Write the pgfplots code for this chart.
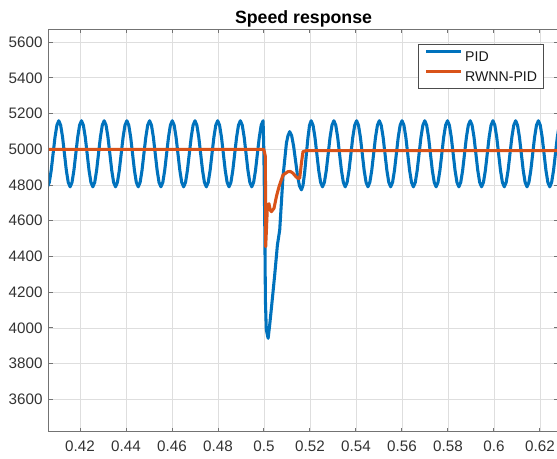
\documentclass[border=0pt]{standalone}
\usepackage{pgfplots}
\pgfplotsset{compat=1.18}
\usepackage{fontspec}
\setmainfont{Liberation Sans}
\definecolor{mblue}{HTML}{0072BD}
\definecolor{morange}{HTML}{D95319}
\begin{document}
\begin{tikzpicture}
\begin{axis}[
 scale only axis, width=381.75pt, height=301.8pt,
 at={(0,0)}, anchor=south west,
 xmin=0.40652, xmax=0.62783, ymin=3419, ymax=5672,
 xtick={0.42,0.44,0.46,0.48,0.5,0.52,0.54,0.56,0.58,0.6,0.62},
 xticklabels={0.42,0.44,0.46,0.48,0.5,0.52,0.54,0.56,0.58,0.6,0.62},
 ytick={3600,3800,4000,4200,4400,4600,4800,5000,5200,5400,5600},
 yticklabels={3600,3800,4000,4200,4400,4600,4800,5000,5200,5400,5600},
 grid=major, major grid style={black!13, line width=0.6pt},
 axis line style={black!55, line width=0.75pt},
 tick style={black!55, line width=0.75pt},
 tick align=inside, major tick length=3pt,
 ticklabel style={font=\fontsize{11.4}{13}\selectfont, text=black!80},
 xticklabel style={inner sep=0pt, anchor=north, yshift=-7pt},
 yticklabel style={inner sep=0pt, anchor=east, xshift=-4.7pt},
 every axis title shift=0pt,
 title={Speed response},
 title style={font=\bfseries\fontsize{13.3}{15}\selectfont, at={(0.5,1)}, anchor=base, yshift=4.7pt, inner sep=0pt},
 legend style={at={(1,1)}, anchor=north east, xshift=-10.5pt, yshift=-11pt, draw=black!70, line width=0.6pt, fill=white, inner xsep=4.85pt, inner ysep=2.6pt, font=\fontsize{10.6}{12}\selectfont, text=black!90, row sep=2pt, column sep=2.25pt, nodes={inner sep=0pt, text height=10.5pt, text depth=2.5pt}},
 legend cell align=left,
 legend image code/.code={\draw[#1, line width=2.3pt] (0pt,3.7pt) -- (25.8pt,3.7pt);},
]
\addplot[color=mblue, line width=2.3pt, line join=round] coordinates {
(0.40584,4790) (0.40666,4815) (0.40748,4882) (0.40830,4975) (0.40913,5068) (0.40995,5135) (0.41077,5160)
(0.41159,5135) (0.41242,5068) (0.41324,4975) (0.41406,4882) (0.41488,4815) (0.41571,4790) (0.41653,4815) (0.41735,4882) (0.41817,4975) (0.41900,5068) (0.41982,5135) (0.42064,5160)
(0.42146,5135) (0.42229,5068) (0.42311,4975) (0.42393,4882) (0.42475,4815) (0.42558,4790) (0.42640,4815) (0.42722,4882) (0.42804,4975) (0.42887,5068) (0.42969,5135) (0.43051,5160)
(0.43133,5135) (0.43216,5068) (0.43298,4975) (0.43380,4882) (0.43462,4815) (0.43545,4790) (0.43627,4815) (0.43709,4882) (0.43791,4975) (0.43874,5068) (0.43956,5135) (0.44038,5160)
(0.44120,5135) (0.44203,5068) (0.44285,4975) (0.44367,4882) (0.44449,4815) (0.44532,4790) (0.44614,4815) (0.44696,4882) (0.44778,4975) (0.44861,5068) (0.44943,5135) (0.45025,5160)
(0.45107,5135) (0.45190,5068) (0.45272,4975) (0.45354,4882) (0.45436,4815) (0.45519,4790) (0.45601,4815) (0.45683,4882) (0.45765,4975) (0.45848,5068) (0.45930,5135) (0.46012,5160)
(0.46094,5135) (0.46177,5068) (0.46259,4975) (0.46341,4882) (0.46423,4815) (0.46506,4790) (0.46588,4815) (0.46670,4882) (0.46752,4975) (0.46835,5068) (0.46917,5135) (0.46999,5160)
(0.47081,5135) (0.47164,5068) (0.47246,4975) (0.47328,4882) (0.47410,4815) (0.47493,4790) (0.47575,4815) (0.47657,4882) (0.47739,4975) (0.47822,5068) (0.47904,5135) (0.47986,5160)
(0.48068,5135) (0.48151,5068) (0.48233,4975) (0.48315,4882) (0.48397,4815) (0.48480,4790) (0.48562,4815) (0.48644,4882) (0.48726,4975) (0.48809,5068) (0.48891,5135) (0.48973,5160)
(0.49055,5135) (0.49138,5068) (0.49220,4975) (0.49302,4882) (0.49384,4815) (0.49467,4790) (0.49549,4815) (0.49631,4882) (0.49713,4975) (0.49796,5068) (0.49878,5135) (0.49960,5160)
(0.49995,4980) (0.50035,4560) (0.50062,4150) (0.50100,3990) (0.50180,3942) (0.50250,4020) (0.50322,4110) (0.50465,4296) (0.50583,4464) (0.50683,4548) (0.50826,4847) (0.50974,5034) (0.51040,5075) (0.51117,5099)
(0.51202,5077) (0.51287,5018) (0.51372,4936) (0.51457,4854) (0.51542,4795) (0.51627,4773) (0.51697,4799) (0.51768,4870) (0.51838,4967) (0.51909,5063) (0.51979,5134) (0.52050,5160)
(0.52132,5135) (0.52215,5068) (0.52297,4975) (0.52379,4882) (0.52462,4815) (0.52544,4790) (0.52626,4815) (0.52709,4882) (0.52791,4975) (0.52873,5068) (0.52956,5135) (0.53038,5160)
(0.53120,5135) (0.53203,5068) (0.53285,4975) (0.53367,4882) (0.53450,4815) (0.53532,4790) (0.53614,4815) (0.53697,4882) (0.53779,4975) (0.53861,5068) (0.53944,5135) (0.54026,5160)
(0.54108,5135) (0.54191,5068) (0.54273,4975) (0.54355,4882) (0.54438,4815) (0.54520,4790) (0.54602,4815) (0.54685,4882) (0.54767,4975) (0.54849,5068) (0.54932,5135) (0.55014,5160)
(0.55096,5135) (0.55179,5068) (0.55261,4975) (0.55343,4882) (0.55426,4815) (0.55508,4790) (0.55590,4815) (0.55673,4882) (0.55755,4975) (0.55837,5068) (0.55920,5135) (0.56002,5160)
(0.56084,5135) (0.56167,5068) (0.56249,4975) (0.56331,4882) (0.56414,4815) (0.56496,4790) (0.56578,4815) (0.56661,4882) (0.56743,4975) (0.56825,5068) (0.56908,5135) (0.56990,5160)
(0.57072,5135) (0.57155,5068) (0.57237,4975) (0.57319,4882) (0.57402,4815) (0.57484,4790) (0.57566,4815) (0.57649,4882) (0.57731,4975) (0.57813,5068) (0.57896,5135) (0.57978,5160)
(0.58060,5135) (0.58143,5068) (0.58225,4975) (0.58307,4882) (0.58390,4815) (0.58472,4790) (0.58554,4815) (0.58637,4882) (0.58719,4975) (0.58801,5068) (0.58884,5135) (0.58966,5160)
(0.59048,5135) (0.59131,5068) (0.59213,4975) (0.59295,4882) (0.59378,4815) (0.59460,4790) (0.59542,4815) (0.59625,4882) (0.59707,4975) (0.59789,5068) (0.59872,5135) (0.59954,5160)
(0.60036,5135) (0.60119,5068) (0.60201,4975) (0.60283,4882) (0.60366,4815) (0.60448,4790) (0.60530,4815) (0.60613,4882) (0.60695,4975) (0.60777,5068) (0.60860,5135) (0.60942,5160)
(0.61024,5135) (0.61107,5068) (0.61189,4975) (0.61271,4882) (0.61354,4815) (0.61436,4790) (0.61518,4815) (0.61601,4882) (0.61683,4975) (0.61765,5068) (0.61848,5135) (0.61930,5160)
(0.62012,5135) (0.62095,5068) (0.62177,4975) (0.62259,4882) (0.62342,4815) (0.62424,4790) (0.62506,4815) (0.62589,4882) (0.62671,4975) (0.62753,5068) (0.62836,5135) (0.62918,5160)
};
\addlegendentry{PID}
\addplot[color=morange, line width=2.3pt, line join=round] coordinates {
(0.40600,5000) (0.49990,5000) (0.50060,4960) (0.50074,4455) (0.50148,4680) (0.50174,4690) (0.50217,4695) (0.50270,4660) (0.50322,4651) (0.50435,4670) (0.50539,4735) (0.50652,4791) (0.50826,4856) (0.51043,4875) (0.51150,4876) (0.51261,4866) (0.51400,4845) (0.51478,4838) (0.51552,4838) (0.51626,4922) (0.51696,4987) (0.51843,4993) (0.62800,4993)
};
\addlegendentry{RWNN-PID}
\end{axis}
\pgfresetboundingbox
\useasboundingbox (-36.75pt,-20.475pt) rectangle (381pt,323.775pt);
\end{tikzpicture}
\end{document}
